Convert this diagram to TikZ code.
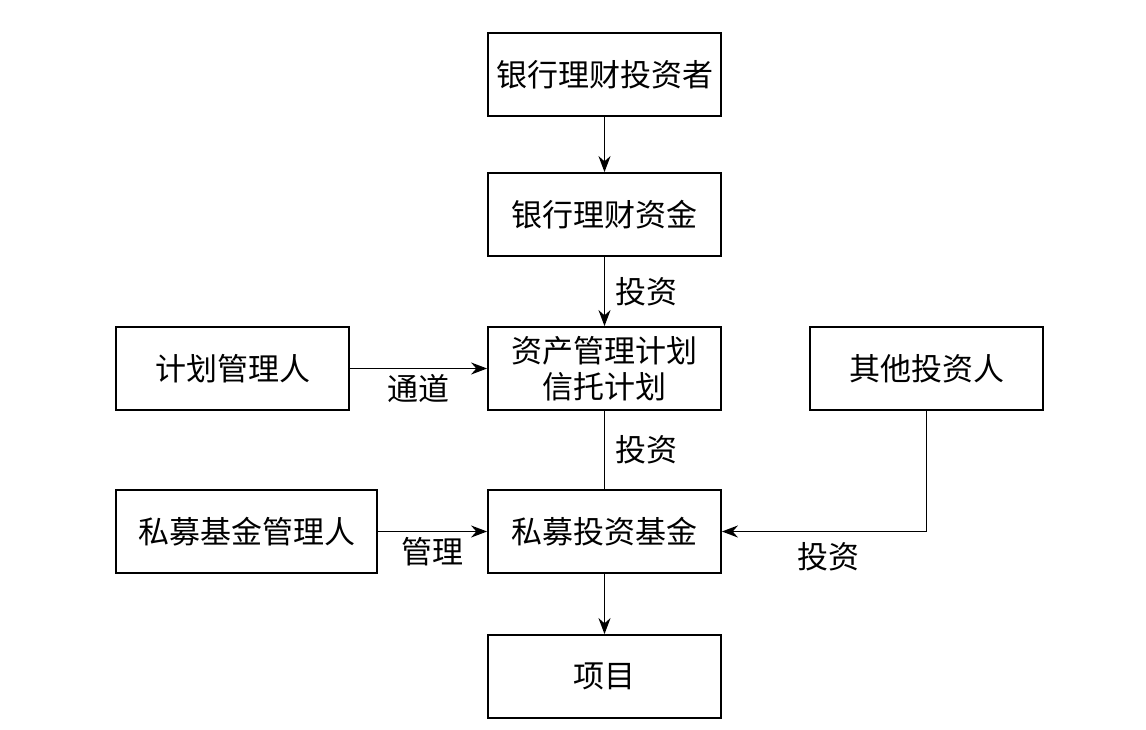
\documentclass[tikz,border=0pt]{standalone}
\usepackage{fontspec}
\newfontfamily\cjk{Noto Sans CJK SC}
\usetikzlibrary{arrows.meta}
\begin{document}
\begin{tikzpicture}[x=1pt,y=-1pt,
  box/.style={draw, line width=1.8pt, minimum width=233pt, minimum height=83pt, inner sep=0pt, font=\cjk\fontsize{31}{36}\selectfont, align=center},
  lbl/.style={font=\cjk\fontsize{31}{36}\selectfont, inner sep=0pt},
  conn/.style={line width=1.8pt, -{Stealth[length=16pt,width=12pt]}},
  plain/.style={line width=1.8pt}]
\useasboundingbox (0,0) rectangle (1146,729);
\node[box] (inv) at (604.5,74.5) {银行理财投资者};
\node[box] (fund) at (604.5,214.5) {银行理财资金};
\node[box] (plan) at (604.5,368.5) {资产管理计划\\信托计划};
\node[box] (pm) at (232.5,368.5) {计划管理人};
\node[box] (other) at (926.5,368.5) {其他投资人};
\node[box, minimum width=261pt] (gp) at (246.5,531.5) {私募基金管理人};
\node[box] (pe) at (604.5,531.5) {私募投资基金};
\node[box] (proj) at (604.5,676.5) {项目};
\coordinate (corner) at (926.5,531.5);
\draw[conn] (inv) -- (fund);
\draw[conn] (fund) -- (plan) node[midway, right=10pt, lbl] {投资};
\draw[plain] (plan) -- (pe) node[midway, right=10pt, lbl] {投资};
\draw[conn] (pm) -- (plan) node[midway, below=5pt, lbl] {通道};
\draw[conn] (gp) -- (pe) node[midway, below=5pt, lbl] {管理};
\draw[conn] (other) -- (corner) -- (pe.east);
\node[lbl] (l5) at (828,557) {投资};
\draw[conn] (pe) -- (proj);
\end{tikzpicture}
\end{document}
